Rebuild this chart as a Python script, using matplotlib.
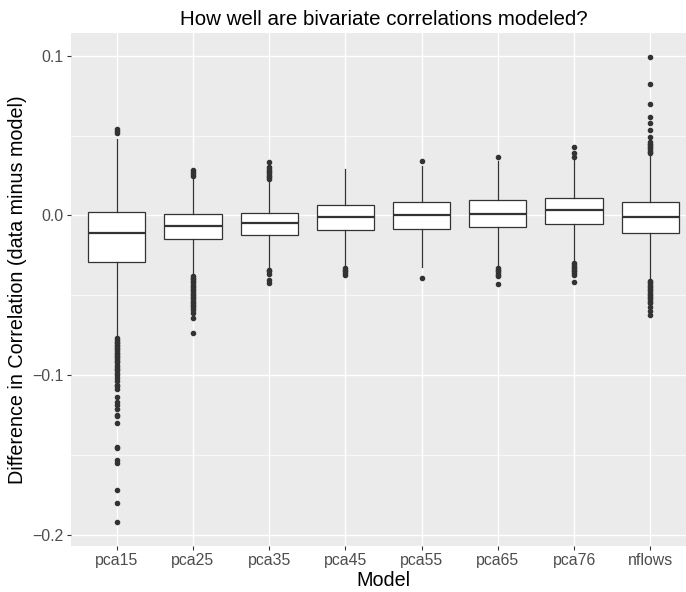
import matplotlib
matplotlib.use("Agg")
import matplotlib.pyplot as plt

plt.rcParams['font.family'] = ['Liberation Sans', 'DejaVu Sans']

models = ["pca15", "pca25", "pca35", "pca45", "pca55", "pca65", "pca76", "nflows"]

# box summaries
q1 = [-0.0293, -0.0145, -0.0124, -0.0089, -0.0083, -0.0074, -0.0055, -0.0110]
medians = [-0.0110, -0.0066, -0.0049, -0.0011, 0.0005, 0.0011, 0.0036, -0.0009]
q3 = [0.0020, 0.0011, 0.0018, 0.0068, 0.0087, 0.0097, 0.0110, 0.0087]
whisker_lo = [-0.0760, -0.0373, -0.0331, -0.0320, -0.0325, -0.0320, -0.0296, -0.0394]
whisker_hi = [0.0478, 0.0243, 0.0222, 0.0292, 0.0312, 0.0344, 0.0345, 0.0379]

# outlying points
out_pca15 = [0.054, 0.053, 0.052, -0.077, -0.078, -0.079, -0.080, -0.081, -0.082,
             -0.083, -0.084, -0.085, -0.086, -0.087, -0.088, -0.089, -0.090, -0.091,
             -0.092, -0.094, -0.095, -0.096, -0.097, -0.099, -0.100, -0.102, -0.104,
             -0.106, -0.107, -0.109, -0.114, -0.117, -0.119, -0.121, -0.125, -0.126,
             -0.130, -0.145, -0.146, -0.153, -0.155, -0.172, -0.180, -0.192]
out_pca25 = [0.0285, 0.027, 0.026, 0.025, -0.038, -0.039, -0.040, -0.041, -0.042,
             -0.043, -0.044, -0.045, -0.046, -0.047, -0.048, -0.049, -0.050, -0.051,
             -0.052, -0.053, -0.054, -0.055, -0.056, -0.057, -0.058, -0.059, -0.061,
             -0.064, -0.0735]
out_pca35 = [0.0337, 0.0305, 0.029, 0.028, 0.027, 0.026, 0.025, 0.024, 0.023,
             -0.034, -0.035, -0.0365, -0.0405, -0.0425]
out_pca45 = [-0.033, -0.034, -0.035, -0.036, -0.037]
out_pca55 = [0.0342, -0.0394]
out_pca65 = [0.0369, -0.033, -0.034, -0.035, -0.036, -0.037, -0.038, -0.043]
out_pca76 = [0.0429, 0.039, 0.0365, -0.030, -0.031, -0.032, -0.033, -0.034,
             -0.035, -0.036, -0.037, -0.042]
out_nflows = [0.0996, 0.0824, 0.0699, 0.062, 0.0578, 0.0536, 0.0494, 0.046, 0.045,
              0.044, 0.043, 0.042, 0.041, 0.040, 0.039, -0.041, -0.042, -0.043,
              -0.044, -0.045, -0.046, -0.047, -0.048, -0.049, -0.050, -0.051, -0.052,
              -0.053, -0.054, -0.055, -0.0572, -0.0597, -0.0624]
outliers = [out_pca15, out_pca25, out_pca35, out_pca45, out_pca55, out_pca65,
            out_pca76, out_nflows]

y_ticks = [0.1, 0.0, -0.1, -0.2]
y_minor = [0.05, -0.05, -0.15]

stats = []
for i, m in enumerate(models):
    stats.append(dict(label=m, med=medians[i], q1=q1[i], q3=q3[i],
                      whislo=whisker_lo[i], whishi=whisker_hi[i],
                      fliers=outliers[i]))

fig = plt.figure(figsize=(6.86, 5.92), dpi=100)
W, H = 686.0, 592.0
ax = fig.add_axes([71 / W, (H - 545.7) / H, (696 - 71) / W, (545.7 - 33) / H])
ax.set_facecolor("#EBEBEB")

# grid
for y in y_minor:
    ax.axhline(y, color="white", lw=0.5, zorder=0)
for y in y_ticks:
    ax.axhline(y, color="white", lw=1.0, zorder=0)
for x in range(1, len(models) + 1):
    ax.axvline(x, color="white", lw=1.0, zorder=0)

ax.bxp(stats, positions=range(1, len(models) + 1), widths=0.75,
       showcaps=False, patch_artist=True,
       boxprops=dict(facecolor="white", edgecolor="#333333", lw=0.9),
       whiskerprops=dict(color="#333333", lw=0.9),
       medianprops=dict(color="#333333", lw=1.6),
       flierprops=dict(marker="o", markerfacecolor="#333333",
                       markeredgecolor="#333333", markersize=3.0, lw=0))

ax.set_xlim(0.4, 8.6)
ax.set_ylim(-0.207, 0.1144)
ax.set_yticks(y_ticks)
ax.set_yticklabels(["0.1", "0.0", "\u22120.1", "\u22120.2"])
ax.set_xticks(range(1, len(models) + 1))
ax.set_xticklabels(models)
for s in ax.spines.values():
    s.set_visible(False)
ax.tick_params(axis="both", length=3.2, width=0.8, color="#333333",
               labelcolor="#4D4D4D", labelsize=11.4, pad=2)

ax.set_title("How well are bivariate correlations modeled?", fontsize=14.8,
             color="black", pad=6)
ax.set_xlabel("Model", fontsize=14.2, color="black", labelpad=2)
ax.set_ylabel("Difference in Correlation (data minus model)", fontsize=14.2,
              color="black", labelpad=4)

fig.savefig("out.png", dpi=100)
